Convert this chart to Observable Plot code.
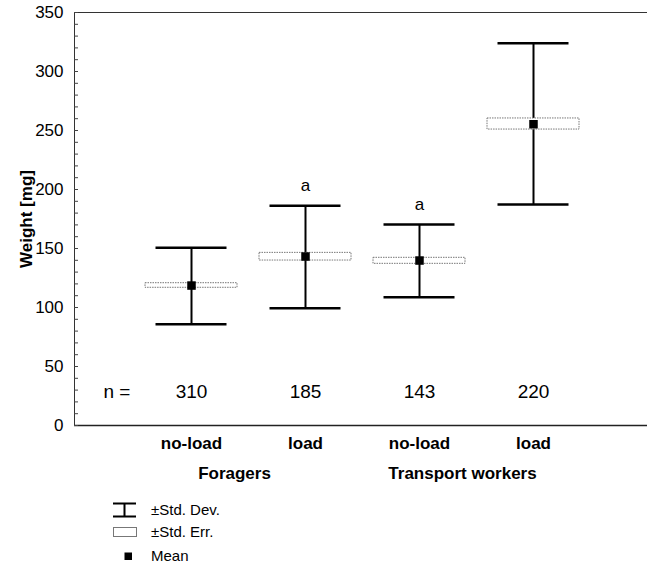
<!DOCTYPE html>
<html>
<head>
<meta charset="utf-8">
<script src="https://cdn.jsdelivr.net/npm/d3@7"></script>
<script src="https://cdn.jsdelivr.net/npm/@observablehq/plot@0.6"></script>
<style>
  body { margin: 0; background: #fff; font-family: "Liberation Sans", Arial, sans-serif; }
  #chart { position: relative; width: 647px; }
  g[aria-label="y-axis label"] text { font-weight: bold; font-size: 17px; }
  #legend { position: relative; width: 647px; height: 68px; font-size: 15px; color: #000; }
  #legend .item { position: absolute; left: 151px; line-height: 18px; }
  #legend svg { position: absolute; }
</style>
</head>
<body>
<div id="chart"></div>
<div id="legend">
  <svg style="left:112px;top:4px" width="25" height="16"><path d="M1,1.5H24M12.5,1.5V14.5M1,14.5H24" stroke="#000" stroke-width="2" fill="none"/></svg>
  <div class="item" style="top:3px">±Std. Dev.</div>
  <svg style="left:112px;top:28px" width="26" height="12"><rect x="1.5" y="1.5" width="23" height="9" fill="#fff" stroke="#777" stroke-width="1"/></svg>
  <div class="item" style="top:25px">±Std. Err.</div>
  <svg style="left:124px;top:54px" width="9" height="9"><rect x="0.5" y="0.5" width="7.5" height="7.5" fill="#000"/></svg>
  <div class="item" style="top:49px">Mean</div>
</div>
<script>
// ---- data ----
const ids       = ["F-no-load", "F-load", "T-no-load", "T-load"];
const conditions = ["no-load", "load", "no-load", "load"];
const groups    = ["Foragers", "Foragers", "Transport workers", "Transport workers"];
const means     = [118.6, 143.2, 139.8, 255.3];
const seLow     = [116.7, 139.8, 137.0, 250.8];
const seHigh    = [120.6, 146.3, 142.1, 260.2];
const sdLow     = [85.8, 99.4, 108.7, 187.3];
const sdHigh    = [150.6, 186.2, 170.3, 324.0];
const nValues   = [310, 185, 143, 220];
const sigLetters = ["", "a", "a", ""];
const groupNames = ["Foragers", "Transport workers"];
const groupStart = ["F-no-load", "T-no-load"];
const yMajor = [0, 50, 100, 150, 200, 250, 300, 350];
const yMinor = d3.range(0, 351, 10);

const rows = ids.map((id, i) => ({
  id, condition: conditions[i], group: groups[i], mean: means[i],
  seLow: seLow[i], seHigh: seHigh[i], sdLow: sdLow[i], sdHigh: sdHigh[i],
  n: nValues[i], sig: sigLetters[i]
}));
const condOf = Object.fromEntries(ids.map((id, i) => [id, conditions[i]]));
const groupRows = groupNames.map((g, i) => ({group: g, id: groupStart[i]}));

const chart = Plot.plot({
  width: 647,
  height: 498,
  marginLeft: 74,
  marginRight: 0,
  marginTop: 12,
  marginBottom: 73,
  style: {fontFamily: "'Liberation Sans', Arial, sans-serif", fontSize: "17px", color: "#000", background: "#fff"},
  x: {type: "band", domain: ids, range: [143.5, 581.5], paddingInner: 0.191, paddingOuter: 0, axis: null},
  y: {domain: [0, 350], axis: null},
  marks: [
    Plot.ruleY([0], {stroke: "#222", strokeWidth: 1.6}),
    Plot.ruleY([350], {stroke: "#333", strokeWidth: 1}),
    Plot.frame({anchor: "left", stroke: "#333", strokeWidth: 1}),
    Plot.axisY(yMajor, {tickSize: 0, tickPadding: 11, label: "Weight [mg]", labelAnchor: "center", labelArrow: "none", labelOffset: 55, fontSize: 17}),
    Plot.axisY(yMinor, {tickSize: -4, fill: "none", label: null, stroke: "#444"}),
    Plot.axisX(ids, {tickSize: 0, tickPadding: 11, tickFormat: d => condOf[d], label: null, fontWeight: "bold", fontSize: 17}),
    Plot.text(groupRows, {x: "id", text: "group", frameAnchor: "bottom", dy: 53, dx: 43, fontWeight: "bold", fontSize: 17}),
    Plot.ruleX(rows, {x: "id", y1: "sdLow", y2: "sdHigh", stroke: "#000", strokeWidth: 2}),
    Plot.tickY(rows, {x: "id", y: "sdHigh", insetLeft: 10.5, insetRight: 10.5, stroke: "#000", strokeWidth: 2.6}),
    Plot.tickY(rows, {x: "id", y: "sdLow", insetLeft: 10.5, insetRight: 10.5, stroke: "#000", strokeWidth: 2.6}),
    Plot.barY(rows, {x: "id", y1: "seLow", y2: "seHigh", fill: "#fff", stroke: "#777", strokeWidth: 1, strokeDasharray: "1.5,1"}),
    Plot.dot(rows, {x: "id", y: "mean", symbol: "square", r: 4.8, fill: "#000", stroke: "none"}),
    Plot.text(rows.filter(d => d.sig), {x: "id", y: "sdHigh", text: "sig", dy: -20, fontSize: 17}),
    Plot.text(rows, {x: "id", text: d => String(d.n), frameAnchor: "bottom", dy: -28, fontSize: 19}),
    Plot.text(["n ="], {frameAnchor: "bottom-left", text: d => d, dx: 29, dy: -28, textAnchor: "start", fontSize: 19})
  ]
});
document.getElementById("chart").appendChild(chart);
</script>
</body>
</html>
